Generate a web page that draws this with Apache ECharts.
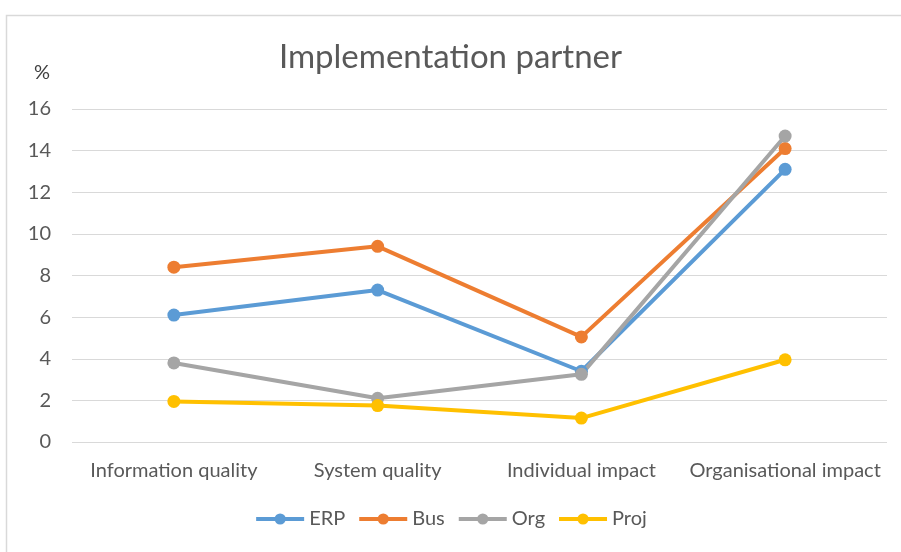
<!DOCTYPE html>
<html>
<head>
<meta charset="utf-8">
<script src="https://cdn.jsdelivr.net/npm/echarts@6/dist/echarts.min.js"></script>
<style>
  html, body { margin: 0; padding: 0; background: #fff; }
  #chart { width: 901px; height: 552px; }
</style>
</head>
<body>
<div id="chart"></div>
<script>
// categories on the x axis
var categories = ['Information quality', 'System quality', 'Individual impact', 'Organisational impact'];
// series values (%)
var erp  = [6.1, 7.3, 3.4, 13.1];
var bus  = [8.4, 9.4, 5.05, 14.1];
var org  = [3.8, 2.1, 3.25, 14.7];
var proj = [1.95, 1.75, 1.15, 3.95];

var chart = echarts.init(document.getElementById('chart'));

function lineSeries(name, color, data) {
  return {
    name: name,
    type: 'line',
    symbol: 'circle',
    symbolSize: 13,
    lineStyle: { color: color, width: 4 },
    itemStyle: { color: color },
    data: data
  };
}

chart.setOption({
  animation: false,
  textStyle: { fontFamily: 'Lato' },
  graphic: [{
    type: 'rect',
    shape: { x: 6.5, y: 15.5, width: 920, height: 560 },
    style: { fill: 'none', stroke: '#d9d9d9', lineWidth: 1.5 },
    z: -1
  }],
  title: {
    text: 'Implementation partner',
    left: 'center',
    top: 36,
    textStyle: { fontFamily: 'Lato', fontSize: 33, fontWeight: 'normal', color: '#595959' }
  },
  grid: { left: 72, right: 14, top: 109, bottom: 110 },
  legend: {
    bottom: 18,
    left: 'center',
    itemWidth: 48,
    itemHeight: 14,
    itemGap: 12,
    lineStyle: { width: 4 },
    textStyle: { fontFamily: 'Lato', fontSize: 20, color: '#595959' },
    data: ['ERP', 'Bus', 'Org', 'Proj']
  },
  xAxis: {
    type: 'category',
    data: categories,
    axisLine: { show: false },
    axisTick: { show: false },
    axisLabel: { color: '#595959', fontSize: 20, margin: 19, interval: 0 }
  },
  yAxis: {
    type: 'value',
    min: 0,
    max: 16,
    interval: 2,
    name: '%',
    nameGap: 26,
    nameTextStyle: { color: '#404040', fontSize: 20, align: 'right', padding: [0, 22, 0, 0] },
    axisLine: { show: false },
    axisTick: { show: false },
    axisLabel: { color: '#595959', fontSize: 20, margin: 21 },
    splitLine: { lineStyle: { color: '#d9d9d9', width: 1.2 } }
  },
  series: [
    lineSeries('ERP', '#5b9bd5', erp),
    lineSeries('Bus', '#ed7d31', bus),
    lineSeries('Org', '#a5a5a5', org),
    lineSeries('Proj', '#ffc000', proj)
  ]
});
</script>
</body>
</html>
